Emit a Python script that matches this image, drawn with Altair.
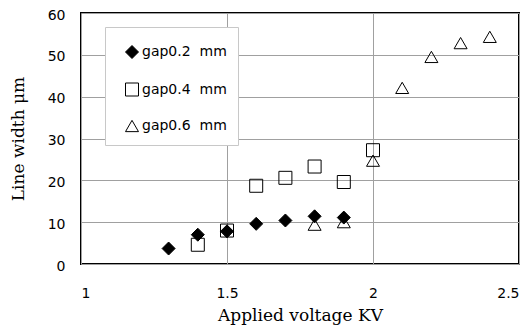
import altair as alt
import pandas as pd

series = ["gap0.2\u00a0 mm", "gap0.4\u00a0 mm", "gap0.6\u00a0 mm"]
x02 = [1.3, 1.4, 1.5, 1.6, 1.7, 1.8, 1.9]
y02 = [3.7, 7.0, 7.8, 9.6, 10.4, 11.4, 11.1]
x04 = [1.4, 1.5, 1.6, 1.7, 1.8, 1.9, 2.0]
y04 = [4.6, 8.0, 18.7, 20.6, 23.3, 19.6, 27.2]
x06 = [1.8, 1.9, 2.0, 2.1, 2.2, 2.3, 2.4]
y06 = [9.4, 10.0, 24.7, 42.1, 49.5, 52.8, 54.3]
x_ticks = [1, 1.5, 2, 2.5]
y_ticks = [0, 10, 20, 30, 40, 50, 60]

rows = []
# draw order: triangles, squares, diamonds on top
for name, xs, ys in [(series[2], x06, y06), (series[1], x04, y04), (series[0], x02, y02)]:
    for a, b in zip(xs, ys):
        rows.append({"V": a, "W": b, "gap": name})
df = pd.DataFrame(rows)

leg = alt.Legend(title=" ")

chart = alt.Chart(df).mark_point(
    filled=False, strokeWidth=1, opacity=1, size=169
).encode(
    x=alt.X("V:Q", scale=alt.Scale(domain=[1, 2.5], nice=False, zero=False),
            axis=alt.Axis(values=x_ticks, title="Applied voltage KV",
                          labelExpr="datum.value", grid=True, ticks=False,
                          domain=False, labelPadding=22, titlePadding=7)),
    y=alt.Y("W:Q", scale=alt.Scale(domain=[0, 60], nice=False),
            axis=alt.Axis(values=y_ticks, title="Line width \u03bcm", grid=True,
                          ticks=False, domain=False, labelPadding=16,
                          labelOffset=2, titlePadding=20)),
    shape=alt.Shape("gap:N", scale=alt.Scale(domain=series,
                    range=["diamond", "square", "triangle-up"]), legend=leg),
    fill=alt.Fill("gap:N", scale=alt.Scale(domain=series,
                  range=["black", "transparent", "transparent"]), legend=leg),
    stroke=alt.Stroke("gap:N", scale=alt.Scale(domain=series,
                      range=["black", "black", "black"]), legend=leg),
).properties(
    width=438, height=251,
    padding={"left": 73, "top": 5, "right": 5, "bottom": 63},
    autosize=alt.AutoSizeParams(type="none"),
).configure_view(
    stroke="black", strokeWidth=2
).configure_axis(
    gridColor="#a0a0a0", gridWidth=1,
    labelFont="DejaVu Sans", labelFontSize=14, labelColor="black",
    titleFont="DejaVu Serif", titleFontSize=17, titleFontWeight="normal",
    titleColor="black",
).configure_legend(
    orient="none", legendX=24, legendY=14,
    fillColor="white", strokeColor="#c8c8c8",
    padding=11, rowPadding=19.5, symbolSize=169, symbolOffset=9,
    titleFontSize=1, titlePadding=6,
    symbolStrokeWidth=1,
    labelOffset=3, labelFont="DejaVu Sans", labelFontSize=14,
    labelColor="black", labelLimit=200,
)

chart.save("out.html", embed_options={"renderer": "svg", "actions": False})
